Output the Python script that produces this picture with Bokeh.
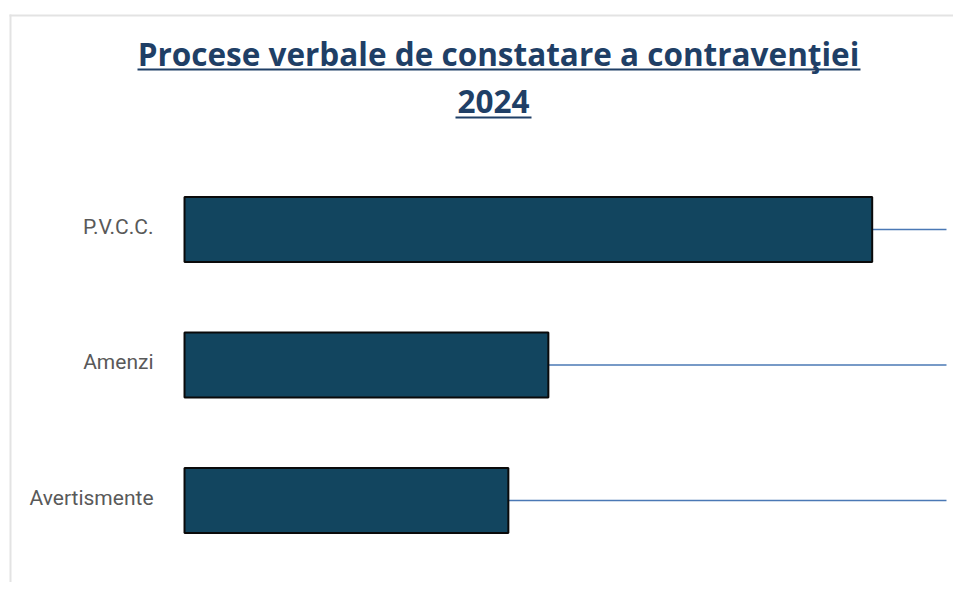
from bokeh.plotting import figure
from bokeh.models import BoxAnnotation, Range1d, ColumnDataSource, Label
from bokeh.core.properties import value
from bokeh.embed import file_html
from bokeh.resources import INLINE

# ---- data ----
categories = ["P.V.C.C.", "Amenzi", "Avertismente"]
values = [1805, 955, 850]
reference_end = [2000, 2000, 2000]
title_line1 = "Procese verbale de constatare a contravenţiei"
title_line2 = "2024"

# category positions (top category highest)
positions = list(range(len(categories)))[::-1]
src = ColumnDataSource(dict(cat=categories, pos=positions, val=values, ref=reference_end))

W, H = 953, 582
p = figure(
    width=W, height=H,
    x_range=Range1d(-483, 2018.4),
    y_range=Range1d(-0.605, 3.69),
    output_backend="svg", toolbar_location=None,
    min_border=0, title=None,
)
p.outline_line_color = None
p.background_fill_color = "white"
p.border_fill_color = "white"
p.grid.visible = False
p.xaxis.visible = False
p.yaxis.visible = False

TITLE_COLOR = "#1F3F66"
BORDER = "#E3E3E3"

# reference lines from bar end to the right
p.segment(x0="val", x1="ref", y0="pos", y1="pos", source=src,
          line_color="#4A78B5", line_width=1.5)
# bars
p.hbar(y="pos", left=0, right="val", height=0.48, source=src,
       fill_color="#12455F", line_color="#0A0A0A", line_width=2)
# category labels, right-aligned left of the bars
p.text(x=0, y="pos", text="cat", source=src, x_offset=-31, y_offset=-3,
       text_align="right", text_baseline="middle",
       text_font=value("Roboto"), text_font_size="21px", text_color="#595959")

# screen units: x from left, y up from bottom of the canvas

def strip(l, r, t, b, color):
    p.add_layout(BoxAnnotation(left=l, right=r, top=H - t, bottom=None if b is None else H - b,
                               left_units="screen", right_units="screen",
                               top_units="screen", bottom_units="screen",
                               fill_color=color, fill_alpha=1, line_color=None))

strip(9, 11, 14, None, BORDER)        # chart-area border, left edge
strip(9, W, 14, 16, BORDER)           # chart-area border, top edge

for txt, cx, base in [(title_line1, 498, 53), (title_line2, 493, 101)]:
    p.add_layout(Label(x=cx, y=H - base, x_units="screen", y_units="screen",
                       text=txt, text_align="center", text_baseline="alphabetic",
                       text_font="Open Sans", text_font_style="bold",
                       text_font_size="31.5px", text_color=TITLE_COLOR))

strip(137, 860, 68, 70, TITLE_COLOR)    # title underline, line 1
strip(455, 531, 116, 118, TITLE_COLOR)  # title underline, line 2

open("out.html", "w").write(file_html(p, INLINE))
